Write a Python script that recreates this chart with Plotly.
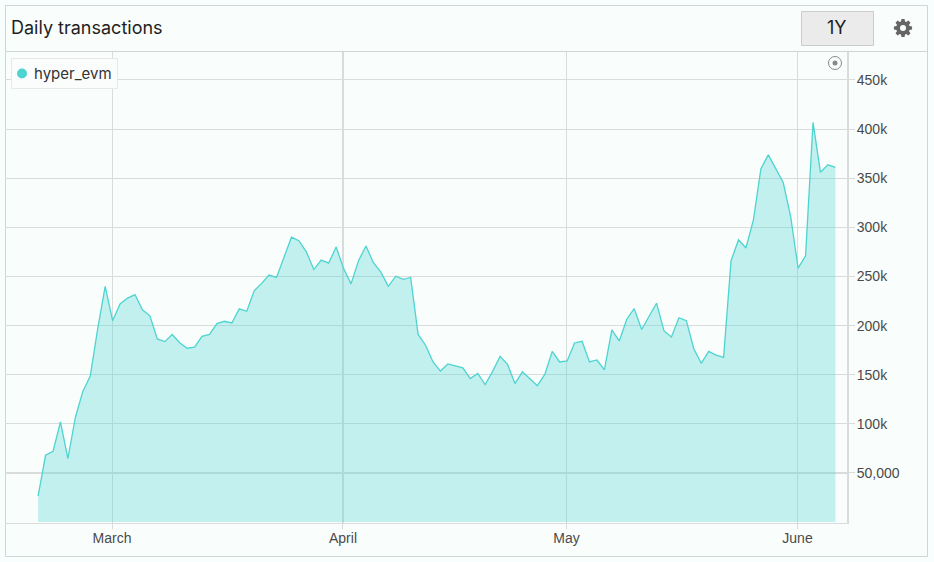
import math
import pandas as pd
import plotly.graph_objects as go

START_DATE = "2025-02-19 02:00"
TX_THOUSANDS = [
    26.5, 68, 72, 102, 64.6, 106.5, 133, 148.6, 197, 240, 205, 222, 228, 231.6, 216, 210,
    186.4, 183.7, 191, 182.6, 177, 178, 189, 191, 202, 204.4, 202.7, 217, 214.6, 235.4,
    243, 251.4, 249, 269.4, 290, 286.4, 275, 257, 266.7, 263.6, 280, 258, 242.5, 266, 281,
    264, 254.4, 240, 250.3, 247, 249, 191, 180, 163, 153.7, 161, 159, 157, 146, 151.4,
    140, 153.4, 168.7, 160.5, 141, 153, 146, 138.8, 150.3, 173.8, 163, 164, 182.3, 184,
    163, 165, 155, 195.6, 184.4, 206.5, 217.3, 196, 209.5, 222.8, 194.6, 188.4, 208, 205,
    176.5, 161.6, 173.8, 170, 167.7, 266, 287.4, 279, 307.5, 359.5, 373.8, 360, 345.6,
    311, 258.5, 271, 406.8, 356, 363.6, 361,
]
Y_TICKS = [50000, 100000, 150000, 200000, 250000, 300000, 350000, 400000, 450000]
Y_LABELS = ["50,000", "100k", "150k", "200k", "250k", "300k", "350k", "400k", "450k"]
X_TICKS = ["2025-03-01", "2025-04-01", "2025-05-01", "2025-06-01"]
X_LABELS = ["March", "April", "May", "June"]
SERIES_NAME = "hyper_evm"
TITLE = "Daily transactions"
RANGE_LABEL = "1Y"

dates = pd.date_range(START_DATE, periods=len(TX_THOUSANDS), freq="D")
values = [v * 1000 for v in TX_THOUSANDS]

W, H = 934, 562
L, R, T, B = 5, 847, 52, 523
PAGE = "#f8fefe"
PANEL = "#f9fdfc"
EDGE = "#cfd5d3"
GRID = "#d9dcdb"
TEAL = "#4dd4d0"


def px(x):
    return (x - L) / (R - L)


def py(y):
    return (B - y) / (B - T)


def box(x0, y0, x1, y1, **kw):
    return dict(type="rect", xref="paper", yref="paper", x0=px(x0), x1=px(x1),
                y0=py(y1), y1=py(y0), **kw)


def oval(cx, cy, r, **kw):
    return dict(type="circle", xref="paper", yref="paper", x0=px(cx - r), x1=px(cx + r),
                y0=py(cy + r), y1=py(cy - r), **kw)


def gear_path(cx, cy, outer, inner, teeth=8):
    pts = []
    step = 2 * math.pi / teeth
    for i in range(teeth):
        a = i * step - math.pi / 2
        for da, r in ((-0.30, inner), (-0.17, outer), (0.17, outer), (0.30, inner)):
            pts.append((px(cx + r * math.cos(a + da)), py(cy + r * math.sin(a + da))))
    return "M " + " L ".join(f"{x:.5f},{y:.5f}" for x, y in pts) + " Z"


fig = go.Figure()
fig.add_trace(go.Scatter(
    x=dates, y=values, mode="lines", name=SERIES_NAME, fill="tozeroy",
    line=dict(color=TEAL, width=1.3), fillcolor="rgba(77,215,210,0.32)",
    showlegend=False, hoverinfo="skip",
))

shapes = [
    box(5.5, 5.5, 927.5, 556.5, fillcolor=PANEL, line=dict(color=EDGE, width=1), layer="below"),
    dict(type="line", xref="paper", yref="paper", x0=px(5), x1=px(927), y0=py(51.5), y1=py(51.5),
         line=dict(color=EDGE, width=1), layer="below"),
    # heavier gridlines
    dict(type="line", xref="x", yref="paper", x0=X_TICKS[1], x1=X_TICKS[1], y0=0, y1=1,
         line=dict(color=GRID, width=2), layer="below"),
    dict(type="line", xref="paper", yref="y", x0=0, x1=1, y0=Y_TICKS[0], y1=Y_TICKS[0],
         line=dict(color=GRID, width=2), layer="below"),
    # range button
    box(801.5, 11.5, 873.5, 45.5, fillcolor="#ebebeb", line=dict(color="#cccccc", width=1)),
    # legend
    box(11.5, 58.5, 117.5, 88.5, fillcolor="#fbfdfd", line=dict(color="#e6e9e8", width=1)),
    oval(22, 73.5, 5, fillcolor=TEAL, line=dict(width=0)),
    # reset icon
    oval(835, 63, 6.5, fillcolor="rgba(0,0,0,0)", line=dict(color="#8a8a8a", width=1)),
    oval(835, 63, 2.5, fillcolor="#8a8a8a", line=dict(width=0)),
    # settings gear
    dict(type="path", xref="paper", yref="paper", path=gear_path(903, 28, 9.2, 6.8),
         fillcolor="#666666", line=dict(width=0)),
    oval(903, 28, 3, fillcolor=PANEL, line=dict(width=0)),
]

annotations = [
    dict(text=TITLE, x=px(9), y=py(27.5), xref="paper", yref="paper", xanchor="left",
         yanchor="middle", showarrow=False, font=dict(family="Inter", size=18, color="#1f1f1f")),
    dict(text=RANGE_LABEL, x=px(837), y=py(27.5), xref="paper", yref="paper", xanchor="center",
         yanchor="middle", showarrow=False, font=dict(family="Inter", size=18, color="#1f1f1f")),
    dict(text=SERIES_NAME, x=px(32), y=py(73.5), xref="paper", yref="paper", xanchor="left",
         yanchor="middle", showarrow=False, font=dict(family="Inter", size=15, color="#333333")),
]

day_px = (797.5 - 112) / 92
x_lo = pd.Timestamp("2025-03-01") + pd.Timedelta(days=(L - 112) / day_px)
x_hi = pd.Timestamp("2025-03-01") + pd.Timedelta(days=(R - 112) / day_px)
k_px = (473 - 80) / 400
y_lo = -(B - 522.1) / k_px * 1000
y_hi = (522.1 - T) / k_px * 1000

fig.update_layout(
    width=W, height=H,
    margin=dict(l=L, r=W - R, t=T, b=H - B, pad=0),
    paper_bgcolor=PAGE, plot_bgcolor="rgba(0,0,0,0)",
    showlegend=False, shapes=shapes, annotations=annotations,
    font=dict(family="Liberation Sans", size=14, color="#4a4a4a"),
    xaxis=dict(
        type="date", range=[x_lo, x_hi], tickmode="array", tickvals=X_TICKS, ticktext=X_LABELS,
        showgrid=True, gridcolor=GRID, gridwidth=1, ticks="outside", ticklen=5, tickcolor=GRID,
        showline=True, linecolor=GRID, linewidth=1, zeroline=False, ticklabelstandoff=-3,
    ),
    yaxis=dict(
        side="right", range=[y_lo, y_hi], tickmode="array", tickvals=Y_TICKS, ticktext=Y_LABELS,
        showgrid=True, gridcolor=GRID, gridwidth=1, ticks="outside", ticklen=6, tickcolor=GRID,
        showline=True, linecolor=GRID, linewidth=2, zeroline=False, ticklabelstandoff=-1,
    ),
)

fig.write_html("out.html", config=dict(displayModeBar=False),
               post_script="document.body.style.margin='0';document.body.style.overflow='hidden';")
